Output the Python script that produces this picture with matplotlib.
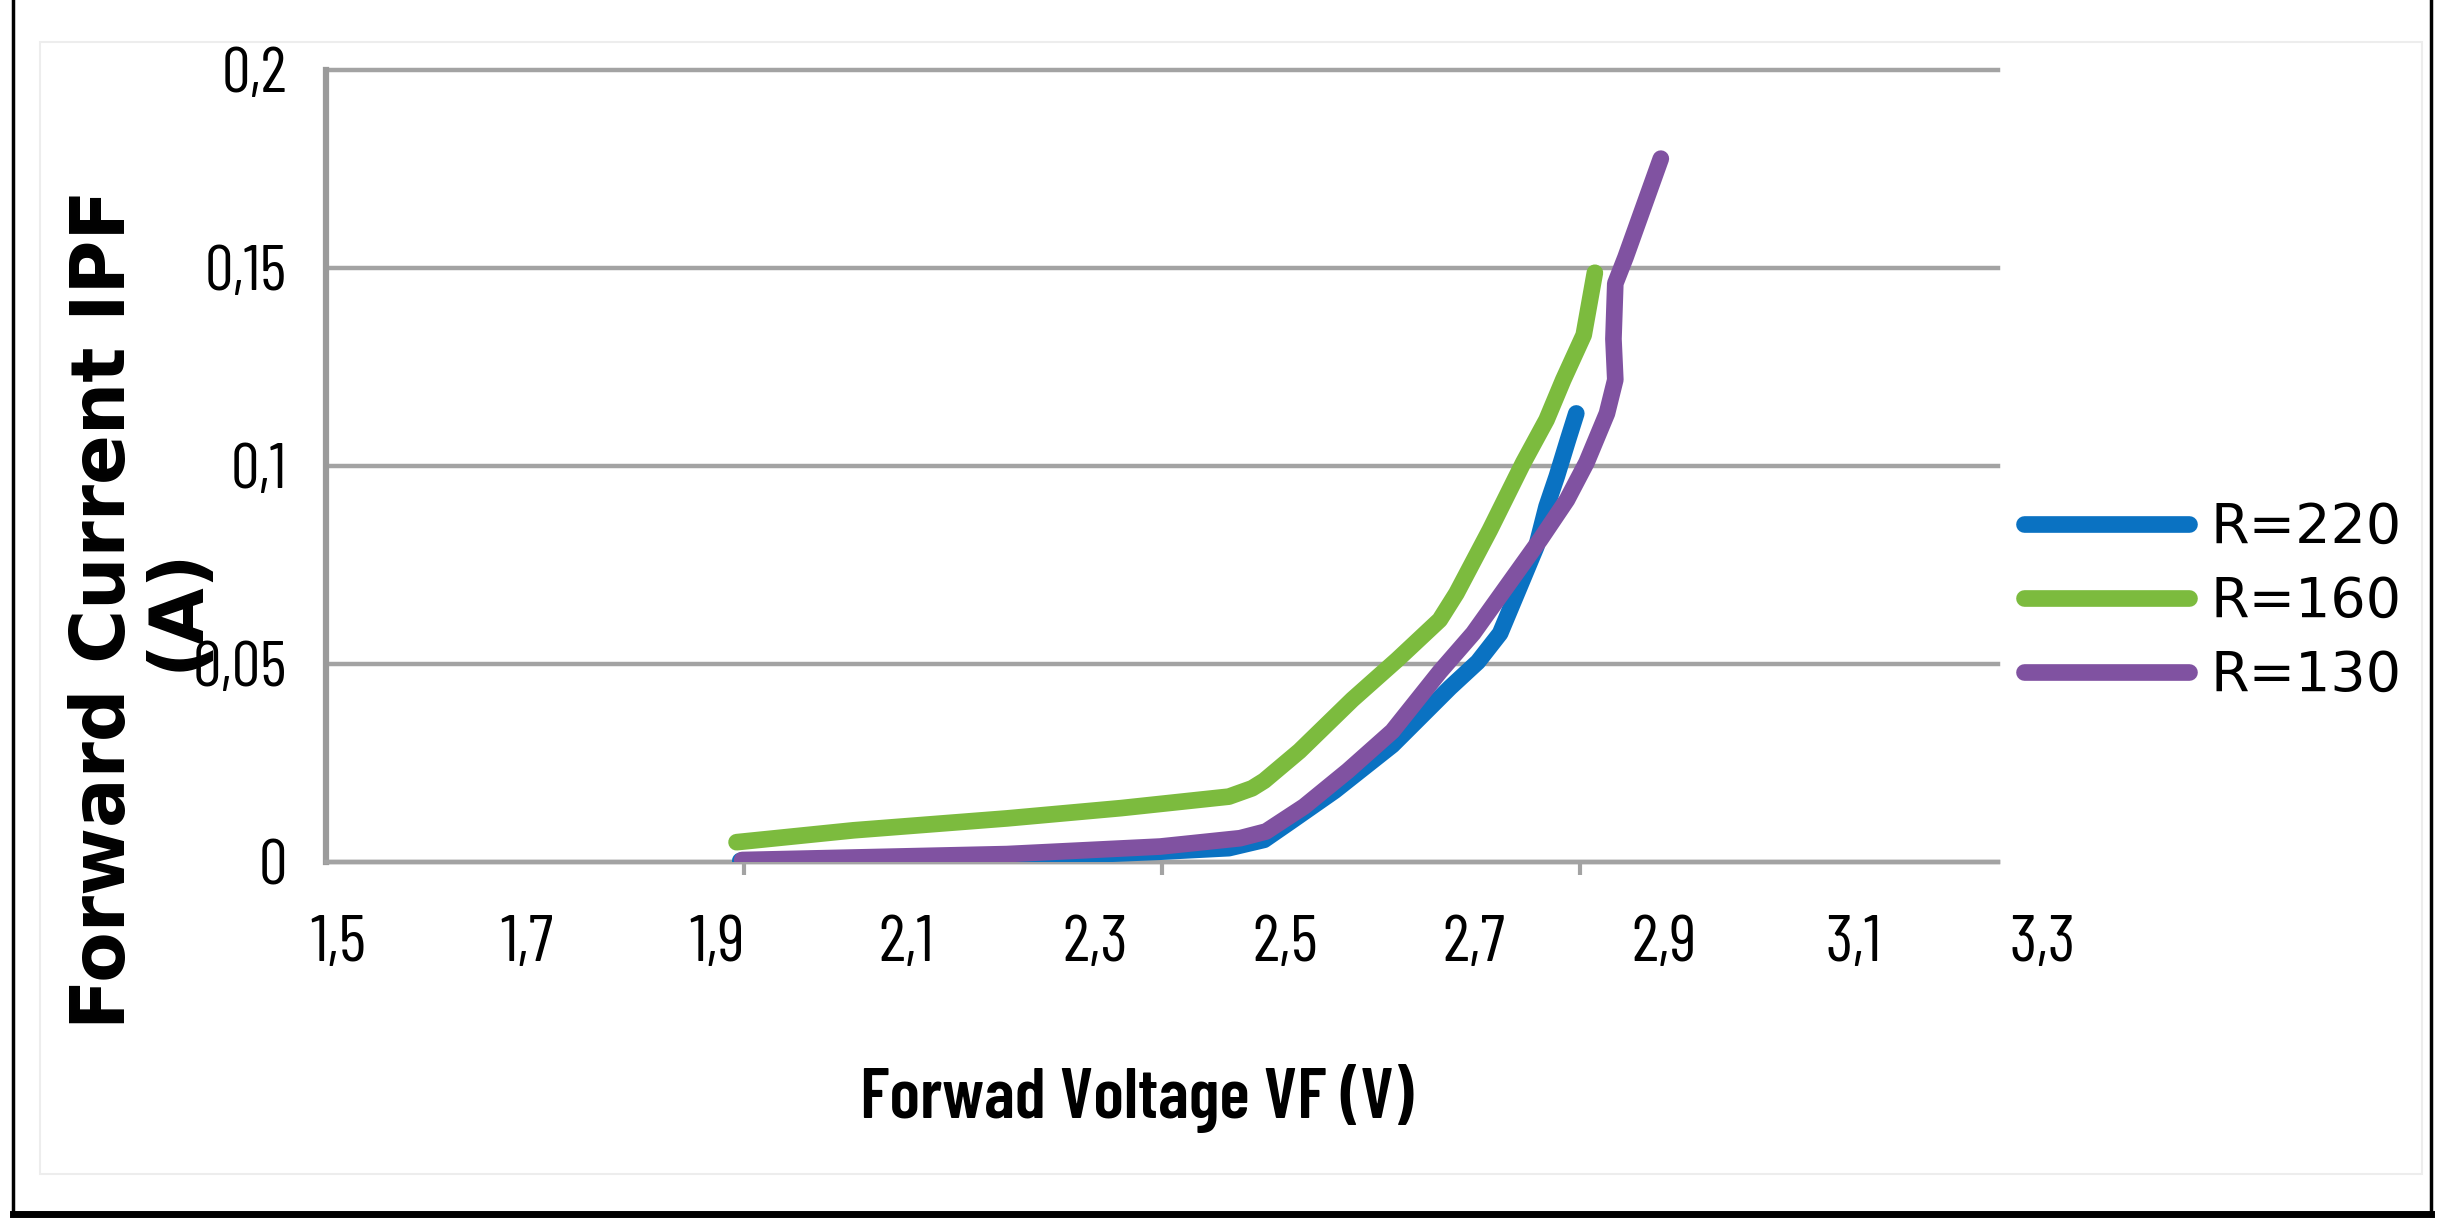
import matplotlib
matplotlib.use("Agg")
import logging
logging.getLogger("matplotlib.font_manager").setLevel(logging.ERROR)
import matplotlib.pyplot as plt
from matplotlib.lines import Line2D
from matplotlib.patches import Rectangle
from matplotlib.transforms import ScaledTranslation

# ---- data ----
v_220 = [1.946, 2.10, 2.233, 2.398, 2.472, 2.51, 2.539, 2.586, 2.648, 2.71,
         2.74, 2.764, 2.782, 2.803, 2.814, 2.825, 2.837, 2.846]
i_220 = [0.0003, 0.0006, 0.001, 0.0026, 0.0035, 0.0056, 0.0103, 0.018, 0.0295, 0.044,
         0.0505, 0.0577, 0.0678, 0.0796, 0.0897, 0.0973, 0.1065, 0.1132]

v_160 = [1.942, 2.068, 2.233, 2.356, 2.472, 2.497, 2.51, 2.548, 2.605, 2.653,
         2.699, 2.717, 2.753, 2.789, 2.814, 2.832, 2.854, 2.866]
i_160 = [0.005, 0.008, 0.011, 0.0136, 0.0165, 0.0186, 0.0205, 0.028, 0.041, 0.051,
         0.0611, 0.0678, 0.0838, 0.1008, 0.1116, 0.1217, 0.133, 0.1487]

v_130 = [1.948, 2.233, 2.398, 2.484, 2.512, 2.553, 2.600, 2.648, 2.699, 2.735,
         2.771, 2.807, 2.836, 2.857, 2.879, 2.888, 2.886, 2.888, 2.899, 2.937]
i_130 = [0.0005, 0.002, 0.0039, 0.006, 0.0077, 0.014, 0.023, 0.033, 0.048, 0.0577,
         0.0695, 0.0813, 0.0914, 0.1008, 0.1132, 0.1217, 0.132, 0.146, 0.1526, 0.1775]

series_labels = ["R=220", "R=160", "R=130"]
series_colors = ["#0a72c2", "#7cbb3e", "#8052a1"]

x_tick_values = [1.5, 1.7, 1.9, 2.1, 2.3, 2.5, 2.7, 2.9, 3.1, 3.3]
x_tick_labels = ["1,5", "1,7", "1,9", "2,1", "2,3", "2,5", "2,7", "2,9", "3,1", "3,3"]
x_mark_values = [1.5, 1.95, 2.4, 2.85, 3.3]
y_tick_values = [0, 0.05, 0.1, 0.15, 0.2]
y_tick_labels = ["0", "0,05", "0,1", "0,15", "0,2"]

narrow = ["Barlow Condensed", "Archivo Narrow", "DejaVu Sans"]

W, H = 2456, 1226
fig = plt.figure(figsize=(W / 100, H / 100), dpi=100)
fig.patch.set_facecolor("white")

ax = fig.add_axes([326 / W, 1 - 862 / H, (1998 - 326) / W, (862 - 69.5) / H])
ax.set_xlim(1.5, 3.3)
ax.set_ylim(0, 0.2)

lw = 12
for v, i, lab, col in zip([v_220, v_160, v_130], [i_220, i_160, i_130],
                          series_labels, series_colors):
    ax.plot(v, i, color=col, lw=lw, label=lab, solid_capstyle="round",
            solid_joinstyle="round", zorder=3)

# grid / spines
grid_col = "#a3a3a3"
ax.yaxis.grid(True, color=grid_col, lw=3.2)
for gl in ax.yaxis.get_gridlines():
    gl.set_clip_on(False)
ax.set_axisbelow(True)
for s in ["top", "right"]:
    ax.spines[s].set_visible(False)
ax.spines["bottom"].set_color(grid_col)
ax.spines["bottom"].set_linewidth(3.2)
ax.spines["left"].set_color("#9a9a9a")
ax.spines["left"].set_linewidth(4.5)

ax.set_yticks(y_tick_values)
ax.set_yticklabels(y_tick_labels, family=narrow, fontsize=46)
ax.tick_params(axis="y", length=0, pad=28)

ax.set_xticks(x_tick_values)
ax.set_xticklabels(x_tick_labels, family=narrow, fontsize=48)
ax.tick_params(axis="x", which="major", length=0, pad=38)
ax.set_xticks(x_mark_values, minor=True)
ax.tick_params(axis="x", which="minor", length=9, width=3, color=grid_col,
               direction="out")

# slight offsets of x labels as in the reference
for k, lab in enumerate(ax.get_xticklabels()):
    dx = (12 + 3.6 * k) / 100.0
    lab.set_transform(lab.get_transform() + ScaledTranslation(dx, 0, fig.dpi_scale_trans))

# axis titles
fig.text(1137 / W, 1 - 1118 / H, "Forwad Voltage VF (V)", family=narrow,
         fontweight="semibold", fontsize=51, ha="center", va="baseline")
fig.text(141 / W, 1 - 609 / H, "Forward Current IPF\n(A)", family="DejaVu Sans",
         fontweight="bold", fontsize=53, rotation=90, ha="center", va="center",
         multialignment="center", linespacing=1.0)

# legend
leg = fig.legend(loc="center left", bbox_to_anchor=(2024 / W, 1 - 602 / H),
                 frameon=False, fontsize=40, handlelength=2.97, handletextpad=0.38,
                 labelspacing=0.36, borderpad=0, borderaxespad=0)
for t in leg.get_texts():
    t.set_family("DejaVu Sans")

# faint chart-area border and outer black frame
fig.add_artist(Rectangle((40 / W, 1 - 1174 / H), (2422 - 40) / W, (1174 - 42) / H,
                         transform=fig.transFigure, fill=False, edgecolor="#ededed",
                         lw=1.5, zorder=0))
fig.add_artist(Line2D([13 / W, 13 / W], [1 - 1214 / H, 1.0], transform=fig.transFigure,
                      color="black", lw=2.5))
fig.add_artist(Line2D([2431 / W, 2431 / W], [1 - 1214 / H, 1.0], transform=fig.transFigure,
                      color="black", lw=2.5))
fig.add_artist(Line2D([13 / W, 2431 / W], [1 - 1214 / H, 1 - 1214 / H],
                      transform=fig.transFigure, color="black", lw=5))

fig.savefig("out.png", dpi=100, facecolor="white")
